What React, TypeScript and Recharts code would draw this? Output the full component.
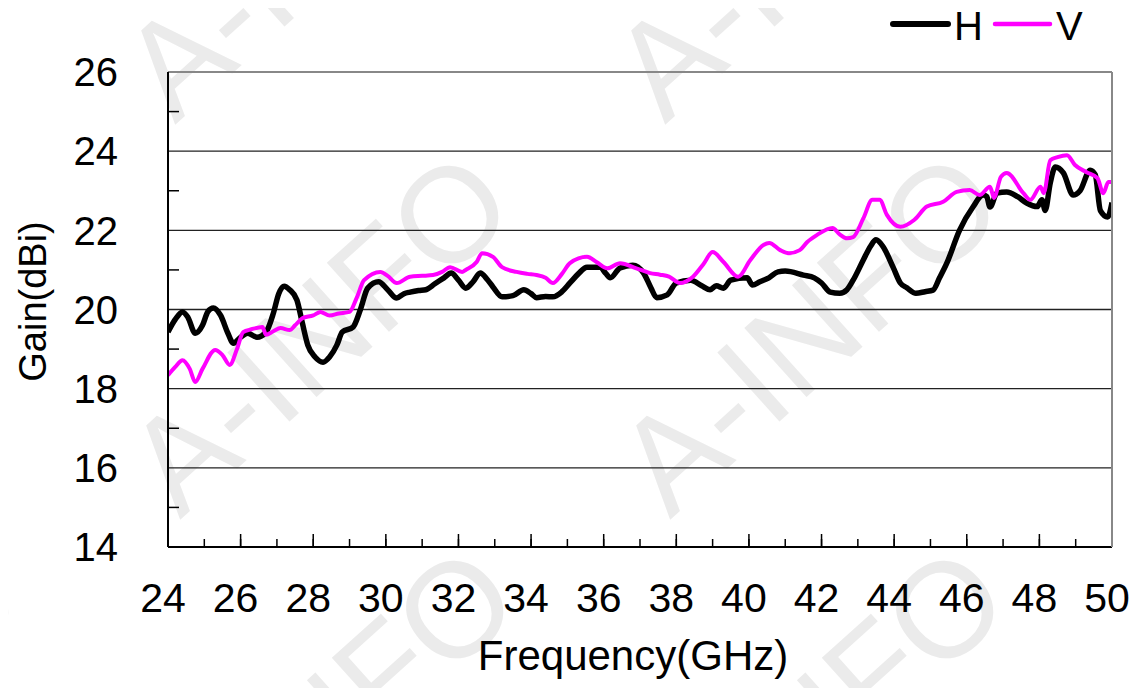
import React from 'react';
import { LineChart, Line, XAxis, YAxis, CartesianGrid, Legend } from 'recharts';

const hFreq = [24.0, 24.2, 24.4, 24.55, 24.75, 24.95, 25.1, 25.25, 25.45, 25.65, 25.8, 26.0, 26.2, 26.45, 26.7, 26.9, 27.05, 27.2, 27.35, 27.55, 27.7, 27.85, 28.05, 28.27, 28.45, 28.65, 28.8, 29.1, 29.3, 29.5, 29.8, 30.05, 30.3, 30.5, 30.67, 30.9, 31.1, 31.35, 31.6, 31.8, 32.0, 32.2, 32.4, 32.6, 32.8, 32.95, 33.2, 33.5, 33.8, 34.0, 34.15, 34.4, 34.6, 34.85, 35.07, 35.3, 35.54, 35.9, 36.05, 36.18, 36.45, 36.8, 37.1, 37.3, 37.46, 37.75, 38.0, 38.4, 38.7, 38.93, 39.1, 39.3, 39.5, 39.95, 40.1, 40.3, 40.55, 40.8, 41.0, 41.5, 41.8, 42.0, 42.24, 42.5, 42.7, 42.87, 43.15, 43.35, 43.5, 43.7, 43.97, 44.17, 44.35, 44.6, 44.85, 45.07, 45.25, 45.45, 45.8, 46.17, 46.45, 46.55, 46.64, 46.83, 47.1, 47.4, 47.65, 47.94, 48.07, 48.16, 48.3, 48.44, 48.66, 48.93, 49.12, 49.4, 49.54, 49.68, 49.88, 50.0];
const hGain = [19.43, 19.75, 19.94, 19.8, 19.4, 19.6, 19.95, 20.04, 19.85, 19.4, 19.15, 19.3, 19.4, 19.3, 19.43, 19.9, 20.4, 20.59, 20.5, 20.24, 19.66, 19.1, 18.8, 18.67, 18.8, 19.1, 19.43, 19.56, 20.0, 20.54, 20.7, 20.5, 20.29, 20.4, 20.44, 20.48, 20.5, 20.65, 20.8, 20.92, 20.74, 20.54, 20.7, 20.92, 20.75, 20.57, 20.32, 20.35, 20.5, 20.4, 20.3, 20.33, 20.32, 20.45, 20.67, 20.9, 21.07, 21.07, 20.92, 20.8, 21.05, 21.12, 20.92, 20.55, 20.3, 20.37, 20.67, 20.74, 20.6, 20.5, 20.6, 20.54, 20.74, 20.8, 20.62, 20.7, 20.8, 20.95, 20.97, 20.87, 20.8, 20.67, 20.44, 20.41, 20.5, 20.74, 21.25, 21.6, 21.76, 21.58, 21.07, 20.67, 20.55, 20.41, 20.45, 20.49, 20.8, 21.17, 22.0, 22.59, 22.89, 22.85, 22.59, 22.94, 22.97, 22.85, 22.69, 22.6, 22.77, 22.5, 23.2, 23.6, 23.45, 22.89, 23.0, 23.52, 23.4, 22.5, 22.34, 22.7];

const vFreq = [24.0, 24.2, 24.4, 24.6, 24.75, 24.95, 25.3, 25.5, 25.7, 25.9, 26.07, 26.3, 26.6, 26.7, 26.9, 27.1, 27.35, 27.5, 27.7, 28.0, 28.2, 28.45, 28.7, 29.0, 29.2, 29.4, 29.85, 30.05, 30.3, 30.67, 31.0, 31.3, 31.55, 31.77, 32.1, 32.2, 32.5, 32.65, 32.95, 33.2, 33.6, 33.9, 34.15, 34.4, 34.6, 34.85, 35.07, 35.54, 35.8, 36.1, 36.45, 36.9, 37.28, 37.55, 37.8, 38.1, 38.46, 38.75, 39.0, 39.3, 39.7, 40.04, 40.4, 40.56, 40.86, 41.1, 41.4, 41.6, 41.87, 42.3, 42.5, 42.7, 42.87, 43.15, 43.4, 43.6, 43.8, 44.17, 44.55, 44.9, 45.35, 45.72, 46.08, 46.35, 46.64, 46.75, 46.94, 47.1, 47.56, 47.75, 48.03, 48.12, 48.3, 48.5, 48.76, 48.98, 49.3, 49.6, 49.76, 49.9, 50.0];
const vGain = [18.34, 18.55, 18.72, 18.5, 18.17, 18.5, 18.98, 18.85, 18.6, 19.0, 19.43, 19.5, 19.56, 19.36, 19.45, 19.53, 19.48, 19.6, 19.78, 19.85, 19.94, 19.85, 19.9, 19.94, 20.3, 20.74, 20.95, 20.85, 20.67, 20.83, 20.85, 20.87, 20.95, 21.07, 20.95, 21.0, 21.2, 21.42, 21.33, 21.07, 20.95, 20.9, 20.87, 20.8, 20.67, 20.9, 21.17, 21.33, 21.2, 21.04, 21.17, 21.04, 20.92, 20.88, 20.83, 20.67, 20.83, 21.15, 21.45, 21.2, 20.83, 21.25, 21.63, 21.68, 21.5, 21.42, 21.5, 21.7, 21.88, 22.06, 21.9, 21.8, 21.83, 22.3, 22.77, 22.77, 22.39, 22.09, 22.26, 22.6, 22.72, 22.97, 23.02, 22.89, 23.1, 22.82, 23.35, 23.45, 22.94, 22.77, 23.1, 22.94, 23.77, 23.85, 23.9, 23.65, 23.47, 23.32, 22.94, 23.22, 23.22];

const xAllTicks = [24, 25, 26, 27, 28, 29, 30, 31, 32, 33, 34, 35, 36, 37, 38, 39, 40, 41, 42, 43, 44, 45, 46, 47, 48, 49, 50];
const yMajorTicks = [14, 16, 18, 20, 22, 24, 26];
const yMinorTicks = [15, 17, 19, 21, 23, 25];

const seriesNames = ['H', 'V'];
const seriesColors = ['#000000', '#FF00FF'];

const hData = hFreq.map((f, i) => ({ f, g: hGain[i] }));
const vData = vFreq.map((f, i) => ({ f, g: vGain[i] }));

const FONT = "'Liberation Sans', Arial, Helvetica, sans-serif";

const watermarkPos = [
  [167, 117], [657, 117],
  [-323, 517], [172, 512], [662, 512],
  [-318, 907], [177, 907], [667, 907],
];

const X_TICK_SIZE = -8;
const X_TICK_MARGIN = 44;

const XTick = (props: any) => {
  const { x, y, payload } = props;
  const v = payload.value;
  if (v % 2 !== 0) return <g />;
  const axisY = y - X_TICK_MARGIN - X_TICK_SIZE;
  const isEdge = v === 24 || v === 50;
  return (
    <g>
      {!isEdge && <line x1={x} x2={x} y1={axisY} y2={axisY - 13} stroke="#000" strokeWidth={1.5} />}
      <text x={x - 5} y={y} dy="0.71em" textAnchor="middle" fontSize={41} fontFamily={FONT} fill="#000">
        {v}
      </text>
    </g>
  );
};

const YTick = (props: any) => {
  const { x, y, payload } = props;
  return (
    <text x={x} y={y} dy="0.355em" textAnchor="end" fontSize={40} fontFamily={FONT} fill="#000">
      {payload.value}
    </text>
  );
};

const NoTick = () => <g />;

const renderLegend = (props: any) => {
  const payload = props.payload || [];
  return (
    <svg width={240} height={50} style={{ display: 'block' }}>
      {payload.map((entry: any, i: number) => {
        const bx = 13 + i * 102;
        return (
          <g key={entry.value}>
            <line x1={bx} y1={16} x2={bx + 55} y2={16} stroke={entry.color} strokeWidth={i === 0 ? 6 : 4.5} strokeLinecap="round" />
            <text x={bx + 61} y={32} fontSize={40} fontFamily={FONT} fill="#000">{entry.value}</text>
          </g>
        );
      })}
    </svg>
  );
};

export default function App() {
  return (
    <div style={{ position: 'relative', width: 1129, height: 680 }}>
      <svg width={1129} height={680} style={{ position: 'absolute', left: 0, top: 0 }}>
        {watermarkPos.map(([x, y], i) => (
          <text key={i} x={x} y={y} fontSize={135} fontFamily={FONT} fill="#ebebeb" transform={`rotate(-42 ${x} ${y})`}>
            A-INFO
          </text>
        ))}
      </svg>
      <div style={{ position: 'absolute', left: 0, top: 0 }}>
        <LineChart width={1129} height={680} margin={{ top: 64, right: 25, left: 0, bottom: 0 }}>
          <CartesianGrid xAxisId="main" yAxisId="main" vertical={false} stroke="#222" strokeWidth={1.3} />
          <XAxis
            xAxisId="main"
            type="number"
            dataKey="f"
            domain={[24, 50]}
            ticks={xAllTicks}
            allowDataOverflow
            height={141}
            tickLine={{ stroke: '#000', strokeWidth: 1.5 }}
            tickSize={X_TICK_SIZE}
            tickMargin={X_TICK_MARGIN}
            axisLine={{ stroke: '#000', strokeWidth: 2 }}
            tick={<XTick />}
            interval={0}
            label={(p: any) => {
              const vb = p.viewBox;
              return (
                <text x={vb.x + vb.width / 2 - 7} y={vb.y + 123} textAnchor="middle" fontSize={42} fontFamily={FONT} fill="#000">
                  Frequency(GHz)
                </text>
              );
            }}
          />
          <XAxis xAxisId="topX" orientation="top" type="number" domain={[24, 50]} ticks={[24, 50]} allowDataOverflow mirror height={10} tick={false} tickLine={false} axisLine={{ stroke: '#888', strokeWidth: 2 }} />
          <YAxis
            yAxisId="main"
            type="number"
            domain={[14, 26]}
            ticks={yMajorTicks}
            allowDataOverflow
            width={160}
            tickLine={false}
            tickSize={0}
            tickMargin={50}
            axisLine={{ stroke: '#000', strokeWidth: 2 }}
            tick={<YTick />}
            interval={0}
            label={(p: any) => {
              const vb = p.viewBox;
              const cx = vb.x + 25;
              const cy = vb.y + vb.height / 2 - 8;
              return (
                <text x={cx} y={cy} transform={`rotate(-90 ${cx} ${cy})`} textAnchor="middle" dominantBaseline="central" fontSize={38} fontFamily={FONT} fill="#000">
                  Gain(dBi)
                </text>
              );
            }}
          />
          <YAxis yAxisId="minorY" type="number" domain={[14, 26]} ticks={yMinorTicks} allowDataOverflow mirror width={20} tick={<NoTick />} tickSize={11} tickLine={{ stroke: '#000', strokeWidth: 1.5 }} axisLine={false} interval={0} />
          <YAxis yAxisId="rightY" orientation="right" type="number" domain={[14, 26]} ticks={[14, 26]} allowDataOverflow mirror width={10} tick={false} tickLine={false} axisLine={{ stroke: '#888', strokeWidth: 2 }} />
          <Legend
            layout="vertical"
            align="center"
            verticalAlign="middle"
            wrapperStyle={{ top: 0, left: 872, width: 240, height: 50 }}
            content={renderLegend}
          />
          <Line
            xAxisId="main"
            yAxisId="main"
            data={hData}
            dataKey="g"
            name={seriesNames[0]}
            stroke={seriesColors[0]}
            strokeWidth={5.5}
            dot={false}
            type="monotone"
            isAnimationActive={false}
            strokeLinejoin="round"
          />
          <Line
            xAxisId="main"
            yAxisId="main"
            data={vData}
            dataKey="g"
            name={seriesNames[1]}
            stroke={seriesColors[1]}
            strokeWidth={4}
            dot={false}
            type="monotone"
            isAnimationActive={false}
            strokeLinejoin="round"
          />
        </LineChart>
      </div>
    </div>
  );
}
